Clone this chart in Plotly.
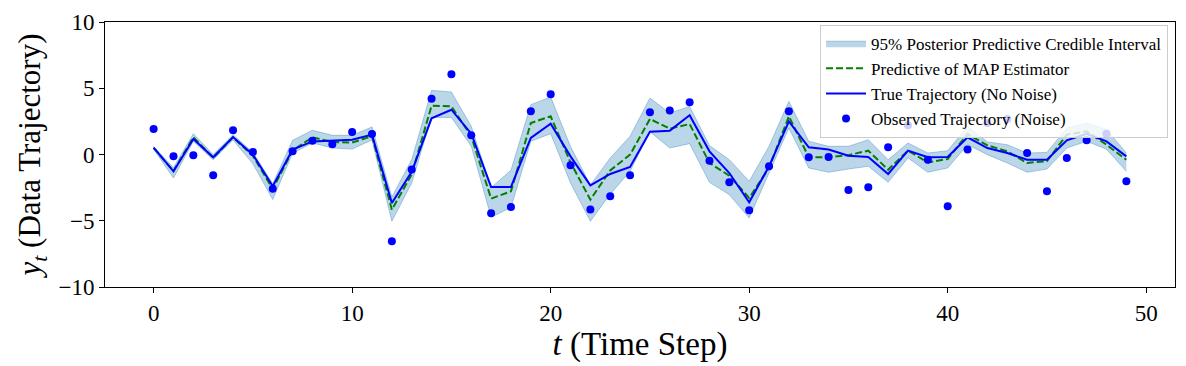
import plotly.graph_objects as go

# time steps
t = list(range(50))

# observed (noisy) trajectory
observed = [1.92, -0.14, -0.06, -1.57, 1.83, 0.19, -2.58, 0.24, 1.04, 0.77,
            1.70, 1.55, -6.55, -1.14, 4.21, 6.05, 1.45, -4.44, -3.96, 3.26,
            4.54, -0.82, -4.16, -3.16, -1.57, 3.18, 3.33, 3.94, -0.47, -2.10,
            -4.21, -0.89, 3.26, -0.21, -0.18, -2.68, -2.48, 0.54, 2.20, -0.39,
            -3.91, 0.37, 2.38, 2.68, 0.11, -2.78, -0.26, 1.07, 1.57, -2.02]

# true trajectory (no noise)
true_traj = [0.52, -1.27, 1.17, -0.21, 1.32, -0.01, -2.40, 0.37, 0.99, 1.04,
             1.12, 1.50, -3.66, -1.30, 2.73, 3.38, 1.57, -2.45, -2.45, 1.25,
             2.33, -0.14, -2.33, -1.47, -0.94, 1.72, 1.80, 2.96, 0.24, -1.40,
             -3.61, -0.89, 2.50, 0.54, 0.37, -0.09, -0.19, -1.47, 0.29, -0.21,
             -0.19, 1.30, 0.49, 0.11, -0.39, -0.39, 1.07, 1.57, 0.99, -0.14]

# predictive of MAP estimator
map_pred = [0.50, -1.25, 1.30, -0.25, 1.30, -0.10, -2.60, 0.30, 1.30, 0.94,
            0.90, 1.38, -4.16, -1.50, 3.68, 3.63, 1.37, -3.33, -2.78, 2.38,
            2.88, -0.60, -3.41, -1.20, -0.01, 2.68, 1.95, 2.30, -0.64, -1.60,
            -3.28, -1.00, 2.88, -0.20, -0.20, -0.05, 0.29, -1.15, 0.29, -0.60,
            -0.34, 1.55, 0.69, 0.24, -0.64, -0.50, 1.50, 1.75, 0.74, -0.40]

# 95% credible interval bounds
ci_upper = [0.60, -1.00, 1.57, 0.00, 1.50, 0.15, -2.20, 1.07, 1.83, 1.45,
            1.45, 2.08, -3.20, -0.39, 4.84, 4.72, 2.13, -2.50, -1.19, 3.76,
            4.34, 0.60, -2.30, -0.26, 1.37, 4.26, 3.13, 3.63, 0.67, -0.39,
            -2.02, 0.62, 4.01, 1.00, 0.62, 0.62, 1.12, -0.39, 0.87, 0.11,
            0.29, 2.13, 0.95, 0.74, 0.11, 0.16, 2.00, 2.38, 1.90, 0.11]
ci_lower = [0.40, -1.77, 1.00, -0.40, 1.10, -0.70, -3.40, 0.10, 0.87, 0.49,
            0.41, 1.10, -5.04, -2.15, 2.80, 2.80, 0.62, -4.74, -4.00, 1.00,
            1.57, -2.15, -5.04, -3.00, -1.27, 1.72, 0.49, 0.82, -2.10, -3.03,
            -4.79, -1.40, 2.00, -1.02, -1.34, -1.10, -0.89, -2.10, -0.26, -1.34,
            -1.02, 0.74, -0.01, -0.64, -1.34, -1.10, 0.49, 1.00, 0.40, -1.27]

font_family = "Liberation Serif, DejaVu Serif, serif"

fig = go.Figure()
fig.add_trace(go.Scatter(
    x=t, y=ci_lower, mode='lines',
    line=dict(color='rgba(31,119,180,0.35)', width=1),
    showlegend=False, hoverinfo='skip'
))
fig.add_trace(go.Scatter(
    x=t, y=ci_upper, mode='lines', fill='tonexty',
    fillcolor='rgba(31,119,180,0.3)',
    line=dict(color='rgba(31,119,180,0.35)', width=1),
    name='95% Posterior Predictive Credible Interval'
))
fig.add_trace(go.Scatter(
    x=t, y=map_pred, mode='lines',
    line=dict(color='green', width=2, dash='7px,3px'),
    name='Predictive of MAP Estimator'
))
fig.add_trace(go.Scatter(
    x=t, y=true_traj, mode='lines',
    line=dict(color='blue', width=2),
    name='True Trajectory (No Noise)'
))
fig.add_trace(go.Scatter(
    x=t, y=observed, mode='markers',
    marker=dict(color='blue', size=8),
    name='Observed Trajectory (Noise)'
))

axis_common = dict(
    showgrid=False, zeroline=False, automargin=False,
    showline=True, linecolor='black', linewidth=1, mirror=True,
    ticks='outside', ticklen=5, tickcolor='black',
    tickfont=dict(size=23, color='black'),
    ticklabeloverflow='allow',
)

# page body has an 8px margin, so the figure is made 8px smaller
fig.update_layout(
    width=1178, height=358,
    margin=dict(l=97, r=11, t=14, b=79),
    paper_bgcolor='white', plot_bgcolor='white',
    font=dict(family=font_family, color='black'),
    xaxis=dict(
        range=[-2.45, 51.45], tickvals=[0, 10, 20, 30, 40, 50],
        title=dict(text='<i>t</i> (Time Step)', font=dict(size=33), standoff=6),
        **axis_common
    ),
    yaxis=dict(
        range=[-10, 10], tickvals=[-10, -5, 0, 5, 10],
        ticktext=['\u221210', '\u22125', '0', '5', '10'],
        title=dict(text='<i>y</i><sub><i>t</i></sub> (Data Trajectory)',
                   font=dict(size=31), standoff=8),
        **axis_common
    ),
    legend=dict(
        x=0.9935, y=0.99, xanchor='right', yanchor='top',
        traceorder='normal',
        bgcolor='rgba(255,255,255,0.8)', bordercolor='rgba(204,204,204,1)',
        borderwidth=1, font=dict(size=17, color='black'),
        tracegroupgap=0, itemwidth=40,
    ),
)

fig.write_html("out.html")
